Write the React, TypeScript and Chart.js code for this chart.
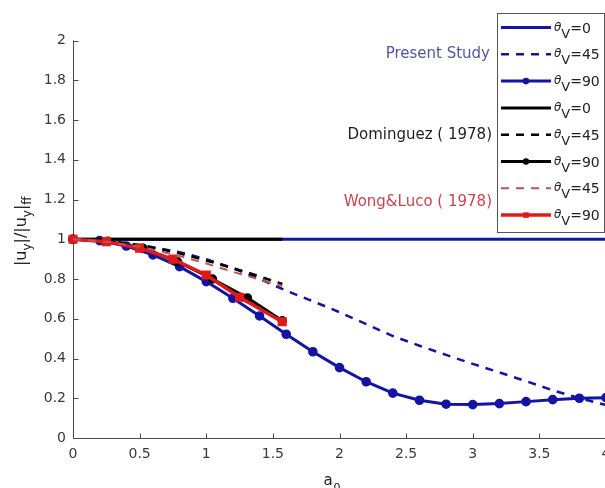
import React, { useEffect, useRef } from 'react';
import { Chart, registerables } from 'chart.js';

Chart.register(...registerables);

// ---------- data ----------
const a0Present = [0, 0.2, 0.4, 0.6, 0.8, 1.0, 1.2, 1.4, 1.6, 1.8, 2.0, 2.2, 2.4, 2.6, 2.8, 3.0, 3.2, 3.4, 3.6, 3.8, 4.0];
const presentTheta0 = [1, 1, 1, 1, 1, 1, 1, 1, 1, 1, 1, 1, 1, 1, 1, 1, 1, 1, 1, 1, 1];
const presentTheta45 = [1.0, 0.995, 0.98, 0.96, 0.935, 0.9, 0.855, 0.8, 0.741, 0.688, 0.633, 0.573, 0.513, 0.464, 0.418, 0.373, 0.33, 0.286, 0.24, 0.2, 0.166];
const presentTheta90 = [1.0, 0.993, 0.966, 0.921, 0.862, 0.787, 0.703, 0.614, 0.522, 0.434, 0.354, 0.283, 0.226, 0.19, 0.17, 0.168, 0.173, 0.183, 0.193, 0.2, 0.203];

const a0Dominguez = [0, 0.262, 0.524, 0.785, 1.047, 1.309, 1.571];
const domTheta0 = [1, 1, 1, 1, 1, 1, 1];
const domTheta45 = [1.0, 0.992, 0.968, 0.932, 0.884, 0.833, 0.775];
const domTheta90 = [1.0, 0.99, 0.955, 0.887, 0.8, 0.705, 0.59];

const a0Wong = [0, 0.25, 0.5, 0.75, 1.0, 1.25, 1.57];
const wongTheta45 = [1.0, 0.988, 0.962, 0.925, 0.878, 0.826, 0.765];
const wongTheta90 = [1.0, 0.988, 0.955, 0.9, 0.82, 0.708, 0.585];

const xTicks = [0, 0.5, 1, 1.5, 2, 2.5, 3, 3.5, 4];
const yTicks = [0, 0.2, 0.4, 0.6, 0.8, 1, 1.2, 1.4, 1.6, 1.8, 2];
const xTickLabels = ['0', '0.5', '1', '1.5', '2', '2.5', '3', '3.5', '4'];
const yTickLabels = ['0', '0.2', '0.4', '0.6', '0.8', '1', '1.2', '1.4', '1.6', '1.8', '2'];

const groupLabels = ['Present Study', 'Dominguez ( 1978)', 'Wong&Luco ( 1978)'];
const legendAngles = ['0', '45', '90', '0', '45', '90', '45', '90'];

// ---------- styles ----------
const BLUE = '#1414a3';
const BLACK = '#000000';
const RED = '#e01a1a';
const RED_DASH = '#b85656';
const FONT = '"DejaVu Sans", sans-serif';
const AXIS = '#4a4a4a';

const pts = (xs: number[], ys: number[]) => xs.map((x, i) => ({ x, y: ys[i] }));

const decorPlugin = {
  id: 'decor',
  beforeDatasetsDraw(chart: any) {
    const { ctx, chartArea, scales } = chart;
    const xs = scales.x;
    const ys = scales.y;
    ctx.save();
    ctx.strokeStyle = AXIS;
    ctx.lineWidth = 1;
    const lx = Math.round(chartArea.left) + 0.5;
    const by = Math.round(chartArea.bottom) + 0.5;
    ctx.beginPath();
    ctx.moveTo(lx, chartArea.top);
    ctx.lineTo(lx, by);
    ctx.lineTo(chartArea.right + 40, by);
    ctx.stroke();
    ctx.beginPath();
    xTicks.forEach((v) => {
      const px = Math.round(xs.getPixelForValue(v)) + 0.5;
      ctx.moveTo(px, by);
      ctx.lineTo(px, by - 5);
    });
    yTicks.forEach((v) => {
      const py = Math.round(ys.getPixelForValue(v)) + 0.5;
      ctx.moveTo(lx, py);
      ctx.lineTo(lx + 5, py);
    });
    ctx.stroke();
    ctx.restore();
  },
  afterDraw(chart: any) {
    const { ctx, chartArea } = chart;
    ctx.save();
    // x title: a0
    ctx.fillStyle = '#222';
    ctx.textBaseline = 'alphabetic';
    ctx.textAlign = 'left';
    const cx = (chartArea.left + chartArea.right) / 2;
    ctx.font = `15px ${FONT}`;
    const aw = ctx.measureText('a').width;
    ctx.font = `11px ${FONT}`;
    const zw = ctx.measureText('0').width;
    const startX = cx - 8 - (aw + zw) / 2;
    ctx.font = `15px ${FONT}`;
    ctx.fillText('a', startX, 485);
    ctx.font = `11px ${FONT}`;
    ctx.fillText('0', startX + aw + 1, 491);

    // y title: |uy|/|uy|ff rotated
    const parts: [string, boolean][] = [['|u', false], ['y', true], ['|/|u', false], ['y', true], ['|', false], ['ff', true]];
    const mainF = `16px ${FONT}`;
    const subF = `12px ${FONT}`;
    let total = 0;
    parts.forEach(([t, s]) => { ctx.font = s ? subF : mainF; total += ctx.measureText(t).width; });
    ctx.translate(26, (chartArea.top + chartArea.bottom) / 2 - 8);
    ctx.rotate(-Math.PI / 2);
    let px = -total / 2;
    parts.forEach(([t, s]) => {
      ctx.font = s ? subF : mainF;
      ctx.fillText(t, px, s ? 5 : 0);
      px += ctx.measureText(t).width;
    });
    ctx.setTransform(1, 0, 0, 1, 0, 0);

    // legend box
    const bx = 497.5, bTop = 13.5, bw = 107, bh = 219;
    ctx.fillStyle = '#ffffff';
    ctx.fillRect(bx, bTop, bw, bh);
    ctx.strokeStyle = '#555';
    ctx.lineWidth = 1;
    ctx.strokeRect(bx, bTop, bw, bh);

    const rowY = (i: number) => 27.5 + i * 26.8;
    const datasets = chart.data.datasets;
    datasets.forEach((ds: any, i: number) => {
      const y = rowY(i);
      ctx.save();
      ctx.strokeStyle = ds.borderColor;
      ctx.lineWidth = ds.borderWidth;
      ctx.setLineDash(ds.borderDash || []);
      ctx.beginPath();
      ctx.moveTo(501, y);
      ctx.lineTo(551, y);
      ctx.stroke();
      ctx.setLineDash([]);
      if (ds.pointRadius > 0) {
        ctx.fillStyle = ds.pointBackgroundColor;
        if (ds.pointStyle === 'rect') {
          const s = ds.pointRadius * 1.4;
          ctx.fillRect(526 - s / 2, y - s / 2, s, s);
        } else {
          ctx.beginPath();
          ctx.arc(526, y, ds.pointRadius, 0, Math.PI * 2);
          ctx.fill();
        }
      }
      ctx.restore();
      // text: θV=..
      ctx.fillStyle = '#222';
      ctx.textAlign = 'left';
      ctx.textBaseline = 'alphabetic';
      let tx = 554;
      ctx.font = `italic 12px ${FONT}`;
      ctx.fillText('θ', tx, y + 3);
      tx += ctx.measureText('θ').width;
      ctx.font = `13px ${FONT}`;
      ctx.fillText('V', tx, y + 10);
      tx += ctx.measureText('V').width;
      ctx.font = `14px ${FONT}`;
      ctx.fillText('=' + legendAngles[i], tx, y + 5);
    });

    // group labels
    ctx.textAlign = 'right';
    ctx.textBaseline = 'middle';
    ctx.font = `15px ${FONT}`;
    ctx.fillStyle = '#4f579e';
    ctx.fillText(groupLabels[0], 490, rowY(1));
    ctx.fillStyle = '#1e1e1e';
    ctx.fillText(groupLabels[1], 492, rowY(4));
    ctx.fillStyle = '#c8444f';
    ctx.fillText(groupLabels[2], 492, (rowY(6) + rowY(7)) / 2);
    ctx.restore();
  },
};

export default function App() {
  const ref = useRef<HTMLCanvasElement | null>(null);
  useEffect(() => {
    if (!ref.current) return;
    const chart = new Chart(ref.current, {
      type: 'line',
      data: {
        datasets: [
          { label: 'θV=0', data: pts(a0Present, presentTheta0), borderColor: BLUE, backgroundColor: BLUE, borderWidth: 3, pointRadius: 0, order: 3 },
          { label: 'θV=45', data: pts(a0Present, presentTheta45), borderColor: BLUE, backgroundColor: BLUE, borderWidth: 2.5, borderDash: [8, 7], pointRadius: 0, order: 3 },
          { label: 'θV=90', data: pts(a0Present, presentTheta90), borderColor: BLUE, backgroundColor: BLUE, pointBackgroundColor: BLUE, pointBorderColor: BLUE, borderWidth: 3, pointRadius: 3.3, pointStyle: 'circle', order: 3 },
          { label: 'θV=0', data: pts(a0Dominguez, domTheta0), borderColor: BLACK, backgroundColor: BLACK, borderWidth: 3, pointRadius: 0, order: 2 },
          { label: 'θV=45', data: pts(a0Dominguez, domTheta45), borderColor: BLACK, backgroundColor: BLACK, borderWidth: 2.5, borderDash: [8, 7], pointRadius: 0, order: 2 },
          { label: 'θV=90', data: pts(a0Dominguez, domTheta90), borderColor: BLACK, backgroundColor: BLACK, pointBackgroundColor: BLACK, pointBorderColor: BLACK, borderWidth: 3, pointRadius: 3.2, pointStyle: 'circle', order: 2 },
          { label: 'θV=45', data: pts(a0Wong, wongTheta45), borderColor: RED_DASH, backgroundColor: RED_DASH, borderWidth: 2, borderDash: [8, 7], pointRadius: 0, order: 1 },
          { label: 'θV=90', data: pts(a0Wong, wongTheta90), borderColor: RED, backgroundColor: RED, pointBackgroundColor: RED, pointBorderColor: RED, borderWidth: 3.5, pointRadius: 4, pointStyle: 'rect', order: 1 },
        ] as any,
      },
      options: {
        responsive: false,
        animation: false,
        clip: false as any,
        layout: { padding: { left: 0, right: 34, top: 40.5, bottom: 0 } },
        plugins: { legend: { display: false }, tooltip: { enabled: false } },
        elements: { line: { tension: 0 } },
        scales: {
          x: {
            type: 'linear',
            min: 0,
            max: 4,
            grid: { display: false, drawTicks: false },
            border: { display: false },
            afterBuildTicks: (s: any) => { s.ticks = xTicks.map((v) => ({ value: v })); },
            afterFit: (s: any) => { s.height = 50; },
            ticks: {
              color: '#3a3a3a', font: { family: FONT, size: 14 }, padding: 8, maxRotation: 0, autoSkip: false,
              callback: (_v: any, i: number) => xTickLabels[i],
            },
          },
          y: {
            type: 'linear',
            min: 0,
            max: 2,
            grid: { display: false, drawTicks: false },
            border: { display: false },
            afterBuildTicks: (s: any) => { s.ticks = yTicks.map((v) => ({ value: v })); },
            afterFit: (s: any) => { s.width = 73; },
            ticks: {
              color: '#3a3a3a', font: { family: FONT, size: 14 }, padding: 7, autoSkip: false,
              callback: (_v: any, i: number) => yTickLabels[i],
            },
          },
        },
      },
      plugins: [decorPlugin],
    });
    return () => chart.destroy();
  }, []);
  return (
    <div style={{ position: 'absolute', left: 0, top: 0, width: 605, height: 488, overflow: 'hidden', background: '#fff' }}>
      <canvas ref={ref} width={640} height={488} style={{ display: 'block', width: 640, height: 488 }} />
    </div>
  );
}
